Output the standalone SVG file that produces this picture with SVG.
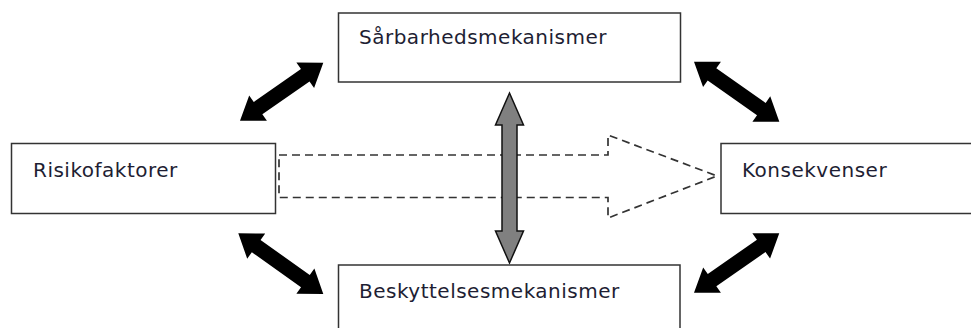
<svg xmlns="http://www.w3.org/2000/svg" width="971" height="328" viewBox="0 0 971 328">
<style>
.box{fill:#fff;stroke:#333;stroke-width:1.5}
.lbl{font-family:"DejaVu Sans","Verdana",sans-serif;font-size:20px;letter-spacing:0.5px;fill:#1e1e33}
.blk{fill:#000;stroke:none}
.gray{fill:#808080;stroke:#111;stroke-width:1.5;stroke-linejoin:miter}
.dash{fill:none;stroke:#333;stroke-width:1.7;stroke-dasharray:8 5}
</style>
<rect width="971" height="328" fill="#fff"/>
<g id="connectors">
  <path class="dash" d="M279,155 L608,155 L608,135 L717,176 L608,218 L608,197.5 L279,197.5 Z"/>
  <path class="gray" d="M509.5,93 L523.5,125 L517,125 L517,231 L523.5,231 L509.5,263 L495.5,231 L502,231 L502,125 L495.5,125 Z"/>
  <g transform="translate(240,120.7) rotate(-34.85)"><path class="blk" d="M0,0 L22,-15.5 L22,-7.5 L79.5,-7.5 L79.5,-15.5 L101.5,0 L79.5,15.5 L79.5,7.5 L22,7.5 L22,15.5 Z"/></g>
  <g transform="translate(694,61.7) rotate(35.1)"><path class="blk" d="M0,0 L22,-15.5 L22,-7.5 L82.3,-7.5 L82.3,-15.5 L104.3,0 L82.3,15.5 L82.3,7.5 L22,7.5 L22,15.5 Z"/></g>
  <g transform="translate(238.3,233.3) rotate(35.5)"><path class="blk" d="M0,0 L22,-15.5 L22,-7.5 L82.4,-7.5 L82.4,-15.5 L104.4,0 L82.4,15.5 L82.4,7.5 L22,7.5 L22,15.5 Z"/></g>
  <g transform="translate(694,292.7) rotate(-34.85)"><path class="blk" d="M0,0 L22,-15.5 L22,-7.5 L81.9,-7.5 L81.9,-15.5 L103.9,0 L81.9,15.5 L81.9,7.5 L22,7.5 L22,15.5 Z"/></g>
</g>
<g id="saarbarhed">
  <rect class="box" x="338.5" y="13" width="342" height="69"/>
  <text class="lbl" x="359" y="44">Sårbarhedsmekanismer</text>
</g>
<g id="beskyttelse">
  <rect class="box" x="338.5" y="265" width="341.5" height="75"/>
  <text class="lbl" x="359" y="297.5">Beskyttelsesmekanismer</text>
</g>
<g id="risiko">
  <rect class="box" x="11.5" y="143.5" width="264" height="70"/>
  <text class="lbl" x="33" y="177">Risikofaktorer</text>
</g>
<g id="konsekvenser">
  <rect class="box" x="721" y="143.5" width="270" height="70"/>
  <text class="lbl" x="742" y="176.5">Konsekvenser</text>
</g>
</svg>
